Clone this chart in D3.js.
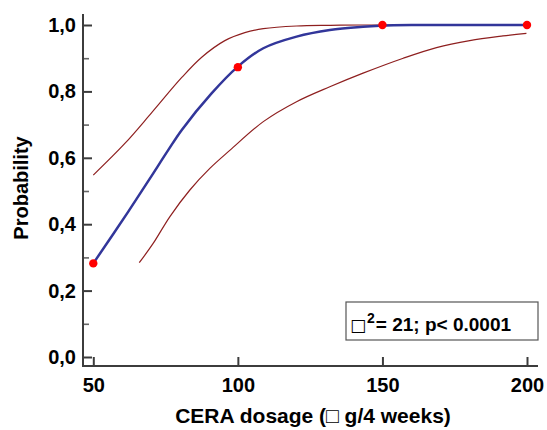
<!DOCTYPE html>
<html>
<head>
<meta charset="utf-8">
<script src="https://cdn.jsdelivr.net/npm/d3@7"></script>
<style>
  html, body { margin: 0; padding: 0; background: #fff; }
  svg { display: block; }
  text { font-family: Arial, "Liberation Sans", sans-serif; font-weight: bold; fill: #000; }
</style>
</head>
<body>
<script>
// ---- data ----
const observedDose = [50, 100, 150, 200];
const observedProb = [0.282, 0.873, 1.0, 1.0];

const fitDose = [50, 62.1, 69.6, 75.9, 80.6, 90.9, 99.9, 108.8, 120.3, 131.8, 143.3, 149.1, 160, 200];
const fitProb = [0.282, 0.438, 0.538, 0.623, 0.684, 0.794, 0.874, 0.930, 0.965, 0.985, 0.995, 0.998, 1.0, 1.0];

const upperDose = [50, 61.0, 70.2, 80.6, 87.5, 95.5, 102.4, 108.8, 120.3, 132, 143.2, 150, 200];
const upperProb = [0.548, 0.644, 0.736, 0.842, 0.903, 0.953, 0.977, 0.989, 0.997, 0.999, 1.0, 1.0, 1.0];

const lowerDose = [65.9, 70.7, 76.5, 83.4, 90.3, 97.3, 108.8, 120.3, 131.8, 143.3, 157.2, 168.7, 180.2, 191.7, 199.8];
const lowerProb = [0.284, 0.342, 0.423, 0.503, 0.568, 0.623, 0.709, 0.769, 0.814, 0.855, 0.900, 0.932, 0.953, 0.967, 0.975];

const xTicks = [50, 100, 150, 200];
const yTicks = [0, 0.2, 0.4, 0.6, 0.8, 1.0];
const yMinorTicks = [0.1, 0.3, 0.5, 0.7, 0.9];
const yTickLabels = ["0,0", "0,2", "0,4", "0,6", "0,8", "1,0"];

const xTitle = "CERA dosage (\u25A1 g/4 weeks)";
const yTitle = "Probability";
const statSymbol = "\u25A1";
const statSup = "2";
const statText = "= 21; p< 0.0001";

// ---- layout ----
const W = 547, H = 430;
const axisX = 83, axisY = 366;
const svg = d3.select("body").append("svg").attr("width", W).attr("height", H);

const x = d3.scaleLinear().domain([50, 200]).range([93.3, 527]);
const y = d3.scaleLinear().domain([0, 1]).range([357, 25]);

const axisColor = "#3c3c3c";
const labelFont = "Arial, 'Liberation Sans', sans-serif";

// Y axis
const gy = svg.append("g").attr("transform", `translate(${axisX},0)`);
gy.call(d3.axisLeft(y).tickValues(yTicks).tickSizeInner(-9).tickSizeOuter(0).tickPadding(7)
  .tickFormat((d, i) => yTickLabels[i]));
gy.select(".domain").remove();
gy.selectAll(".tick line").attr("stroke", axisColor).attr("stroke-width", 2);
gy.selectAll(".tick text").attr("font-size", 20).attr("font-family", labelFont).attr("font-weight", "bold").attr("fill", "#000");

const gyMinor = svg.append("g").attr("transform", `translate(${axisX},0)`);
gyMinor.call(d3.axisLeft(y).tickValues(yMinorTicks).tickSizeInner(-6).tickSizeOuter(0).tickFormat(""));
gyMinor.select(".domain").remove();
gyMinor.selectAll(".tick line").attr("stroke", "#666").attr("stroke-width", 1.6);

svg.append("line").attr("x1", axisX).attr("x2", axisX).attr("y1", 14).attr("y2", axisY + 1)
  .attr("stroke", axisColor).attr("stroke-width", 2);

// X axis
const gx = svg.append("g").attr("transform", `translate(0,${axisY})`);
gx.call(d3.axisBottom(x).tickValues(xTicks).tickSizeInner(-9).tickSizeOuter(0).tickPadding(12).tickFormat(d3.format("d")));
gx.select(".domain").remove();
gx.selectAll(".tick line").attr("stroke", axisColor).attr("stroke-width", 2);
gx.selectAll(".tick text").attr("font-size", 20).attr("font-family", labelFont).attr("font-weight", "bold").attr("fill", "#000");

svg.append("line").attr("x1", axisX - 1).attr("x2", 538).attr("y1", axisY).attr("y2", axisY)
  .attr("stroke", axisColor).attr("stroke-width", 2);

// Curves
const line = d3.line().x(d => x(d[0])).y(d => y(d[1])).curve(d3.curveCatmullRom.alpha(0.5));

svg.append("path").datum(upperDose.map((d, i) => [d, upperProb[i]]))
  .attr("d", line).attr("fill", "none").attr("stroke", "#8e1f1f").attr("stroke-width", 1.2);
svg.append("path").datum(lowerDose.map((d, i) => [d, lowerProb[i]]))
  .attr("d", line).attr("fill", "none").attr("stroke", "#8e1f1f").attr("stroke-width", 1.2);
svg.append("path").datum(fitDose.map((d, i) => [d, fitProb[i]]))
  .attr("d", line).attr("fill", "none").attr("stroke", "#32369a").attr("stroke-width", 2.5);

// Points
svg.selectAll("circle.obs").data(observedDose.map((d, i) => [d, observedProb[i]]))
  .enter().append("circle").attr("class", "obs")
  .attr("cx", d => x(d[0])).attr("cy", d => y(d[1])).attr("r", 4.2).attr("fill", "#ff0000");

// Stat box
svg.append("rect").attr("x", 346).attr("y", 302).attr("width", 192).attr("height", 38)
  .attr("fill", "#fff").attr("stroke", "#555").attr("stroke-width", 1.2);
const st = svg.append("text").attr("x", 350).attr("y", 331).attr("font-size", 19);
st.append("tspan").attr("font-family", "'DejaVu Sans', sans-serif").attr("font-weight", "bold").attr("font-size", 17).text(statSymbol);
st.append("tspan").attr("font-size", 14).attr("dy", -8).attr("dx", 1).text(statSup);
st.append("tspan").attr("dy", 8).attr("dx", 1).text(statText);

// Titles
svg.append("text").attr("x", 313).attr("y", 423).attr("text-anchor", "middle").attr("font-size", 21).text(xTitle);
svg.append("text").attr("transform", "translate(28,188) rotate(-90)").attr("text-anchor", "middle")
  .attr("font-size", 20).text(yTitle);
</script>
</body>
</html>
